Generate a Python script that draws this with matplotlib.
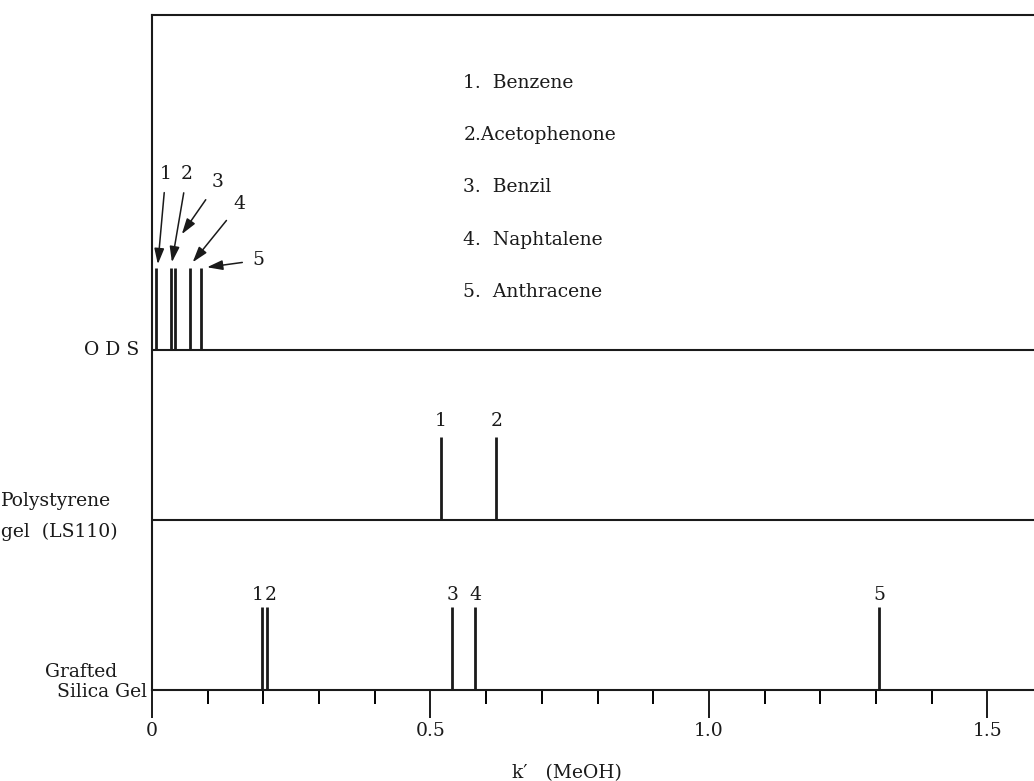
import matplotlib
matplotlib.use("Agg")
import matplotlib.pyplot as plt
from matplotlib.transforms import offset_copy

plt.rcParams["font.family"] = ["DejaVu Serif", "Liberation Serif"]

# capacity factors k' (MeOH) read per column packing
ods_k = [0.007, 0.034, 0.041, 0.068, 0.088]
poly_k = [0.519, 0.618]
poly_labels = ["1", "2"]
grafted_k = [0.197, 0.206, 0.539, 0.580, 1.305]
grafted_labels = ["1", "2", "3", "4", "5"]
compounds = ["1.  Benzene", "2.Acetophenone", "3.  Benzil", "4.  Naphtalene", "5.  Anthracene"]

peak_h = 1.0
baselines = {"grafted": 0.0, "poly": 2.05, "ods": 4.1}
xticks_major = [0, 0.5, 1.0, 1.5]
xtick_labels = ["0", "0.5", "1.0", "1.5"]

ink = "#1a1a1a"
fig = plt.figure(figsize=(10.34, 7.81), dpi=100)
ax = fig.add_axes([152 / 1034, 91 / 781, 1 - 152 / 1034, 675 / 781])
ax.set_xlim(0, 1.5835)
ax.set_ylim(0, 8.13)

for s in ["left", "top", "bottom"]:
    ax.spines[s].set_linewidth(1.5)
    ax.spines[s].set_color(ink)
ax.spines["right"].set_visible(False)

# panel baselines
for key in ["poly", "ods"]:
    ax.axhline(baselines[key], color=ink, lw=1.5)

# peaks
ax.vlines(ods_k, baselines["ods"], baselines["ods"] + peak_h * 0.98, color=ink, lw=2)
ax.vlines(poly_k, baselines["poly"], baselines["poly"] + peak_h, color=ink, lw=2)
ax.vlines(grafted_k, baselines["grafted"], baselines["grafted"] + peak_h, color=ink, lw=2)

fs = 13.5
# number labels above peaks
for k, lab in zip(poly_k, poly_labels):
    ax.annotate(lab, (k, baselines["poly"] + peak_h), xytext=(0, 5), textcoords="offset points",
                ha="center", va="bottom", fontsize=fs, color=ink)
grafted_dx = [-3, 3, 0, 0, 0]
for k, lab, dx in zip(grafted_k, grafted_labels, grafted_dx):
    ax.annotate(lab, (k, baselines["grafted"] + peak_h), xytext=(dx, 2), textcoords="offset points",
                ha="center", va="bottom", fontsize=fs, color=ink)

# arrows for the crowded ODS peaks: head offset from peak top, text offset from head (points)
head_off = [(1.4, 2.9), (0.7, 4.3), (5, 24.5), (2, 4.3), (4.3, 0.7)]
text_off = [(5.8, 65), (10.8, 63.4), (26, 37.4), (33.8, 41.8), (36.7, 5)]
ods_top = baselines["ods"] + peak_h * 0.98
for i, k in enumerate(ods_k):
    tr = offset_copy(ax.transData, fig=fig, x=head_off[i][0], y=head_off[i][1], units="points")
    ax.annotate(str(i + 1), xy=(k, ods_top), xycoords=tr,
                xytext=text_off[i], textcoords="offset points",
                ha="center", va="center", fontsize=fs, color=ink,
                arrowprops=dict(arrowstyle="-|>,head_length=0.7,head_width=0.22",
                                color=ink, lw=1.1, shrinkA=5, shrinkB=0))

# compound list
for i, name in enumerate(compounds):
    ax.text(0.353, 0.899 - i * 0.0772, name, transform=ax.transAxes, fontsize=fs,
            ha="left", va="center", color=ink)

# column labels on the left
ax.text(-0.014, baselines["ods"], "O D S", transform=ax.get_yaxis_transform(),
        ha="right", va="center", fontsize=fs, color=ink)
ax.text(-0.171, baselines["poly"] + 0.04, "Polystyrene\ngel  (LS110)", transform=ax.get_yaxis_transform(),
        ha="left", va="center", fontsize=fs, color=ink, linespacing=1.95)
ax.text(-0.006, baselines["grafted"] + 0.1, "Grafted     \nSilica Gel", transform=ax.get_yaxis_transform(),
        ha="right", va="center", fontsize=fs, color=ink, linespacing=1.15)

# x axis ticks
ax.set_xticks(xticks_major)
ax.set_xticklabels(xtick_labels, fontsize=fs, color=ink)
ax.set_xticks([i / 10 for i in range(16) if i % 5], minor=True)
ax.tick_params(axis="x", which="major", direction="out", length=20, width=1.4, pad=3, colors=ink)
ax.tick_params(axis="x", which="minor", direction="out", length=10, width=1.4)
ax.set_yticks([])
ax.set_xlabel("k\u2032   (MeOH)", fontsize=fs, color=ink)
ax.xaxis.set_label_coords(0.47, -0.11)

fig.savefig("out.png", dpi=100)
